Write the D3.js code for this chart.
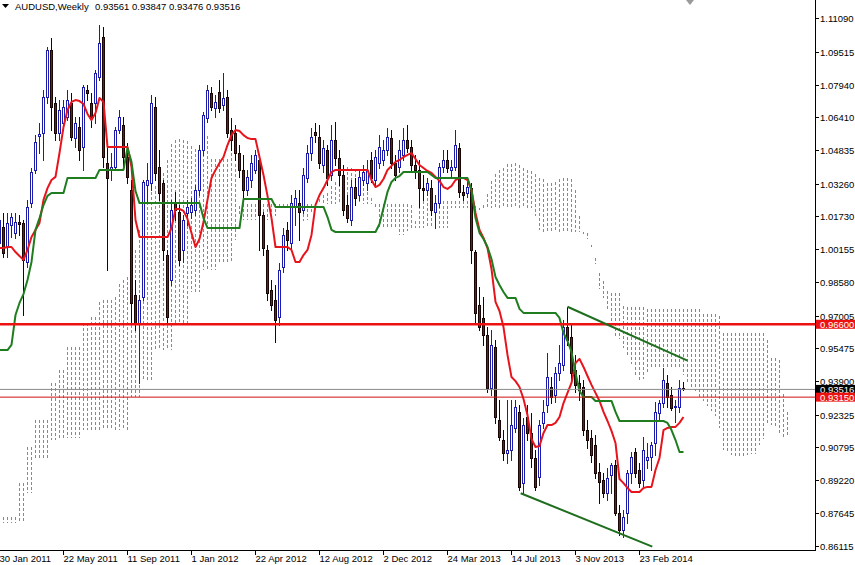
<!DOCTYPE html>
<html><head><meta charset="utf-8">
<script src="https://cdn.jsdelivr.net/npm/d3@7"></script>
<style>
body{margin:0;background:#fff;}
svg{display:block;}
text{font-family:"Liberation Sans",Arial,sans-serif;font-size:9.5px;}
</style>
</head><body>
<svg id="c" width="855" height="565"></svg>
<script>
// ---- weekly candles (bar 0 = week of 30 Jan 2011) ----
const candleOpen = [1.0045,1.0121,1.0026,1.0130,1.0092,1.0145,1.0140,0.9955,1.0234,1.0391,1.0552,1.0566,1.0736,1.0959,1.0708,1.0566,1.0613,1.0642,1.0708,1.0542,1.0594,1.0500,1.0770,1.0708,1.0708,1.0831,1.1021,1.0424,1.0391,1.0405,1.0580,1.0604,1.0452,1.0296,0.9799,0.9666,0.9789,1.0320,1.0329,1.0689,1.0405,1.0329,0.9988,0.9870,1.0239,1.0192,1.0012,1.0187,1.0192,1.0201,1.0296,1.0485,1.0637,1.0755,1.0684,1.0760,1.0698,1.0736,1.0580,1.0566,1.0471,1.0391,1.0296,1.0343,1.0391,1.0438,1.0177,1.0012,0.9822,0.9775,0.9695,0.9931,1.0107,1.0045,1.0216,1.0234,1.0201,1.0353,1.0471,1.0571,1.0547,1.0414,1.0485,1.0367,1.0533,1.0448,1.0367,1.0225,1.0154,1.0310,1.0272,1.0343,1.0329,1.0438,1.0343,1.0424,1.0438,1.0485,1.0542,1.0424,1.0405,1.0462,1.0533,1.0500,1.0414,1.0391,1.0306,1.0296,1.0306,1.0192,1.0234,1.0405,1.0438,1.0391,1.0405,1.0495,1.0287,1.0282,1.0306,1.0003,0.9751,0.9690,0.9610,0.9358,0.9553,0.9207,0.9112,0.9050,0.9065,0.9169,0.9245,0.8909,0.9221,0.9145,0.9027,0.8937,0.9193,0.9278,0.9363,0.9325,0.9429,0.9467,0.9647,0.9600,0.9444,0.9382,0.9363,0.9159,0.9122,0.9088,0.8961,0.8923,0.8861,0.8946,0.8994,0.8766,0.8686,0.8766,0.8956,0.9055,0.8970,0.8923,0.9017,0.9032,0.9098,0.9240,0.9288,0.9382,0.9325,0.9268,0.9268,0.93561];
const candleHigh = [1.0192,1.0187,1.0187,1.0187,1.0187,1.0177,1.0154,1.0249,1.0400,1.0556,1.0613,1.0770,1.0973,1.1016,1.0736,1.0722,1.0722,1.0770,1.0755,1.0642,1.0642,1.0793,1.0793,1.0755,1.0864,1.1077,1.1068,1.0500,1.0471,1.0594,1.0675,1.0642,1.0519,1.0343,0.9870,0.9799,1.0343,1.0424,1.0746,1.0736,1.0485,1.0343,1.0012,1.0249,1.0287,1.0225,1.0177,1.0249,1.0258,1.0320,1.0509,1.0665,1.0793,1.0784,1.0746,1.0817,1.0850,1.0770,1.0637,1.0604,1.0509,1.0462,1.0391,1.0462,1.0485,1.0462,1.0192,1.0036,0.9870,0.9846,0.9951,1.0116,1.0145,1.0272,1.0296,1.0296,1.0400,1.0509,1.0589,1.0613,1.0604,1.0533,1.0509,1.0604,1.0618,1.0485,1.0414,1.0272,1.0343,1.0353,1.0391,1.0414,1.0438,1.0476,1.0485,1.0556,1.0533,1.0589,1.0580,1.0462,1.0533,1.0589,1.0604,1.0533,1.0462,1.0438,1.0367,1.0353,1.0343,1.0272,1.0424,1.0485,1.0485,1.0438,1.0580,1.0519,1.0320,1.0343,1.0329,1.0012,0.9837,0.9789,0.9647,0.9633,0.9586,0.9302,0.9159,0.9302,0.9302,0.9302,0.9278,0.9216,0.9278,0.9240,0.9065,0.9207,0.9302,0.9524,0.9411,0.9458,0.9562,0.9680,0.9742,0.9657,0.9514,0.9420,0.9396,0.9207,0.9159,0.9136,0.9003,0.8956,0.8979,0.9003,0.9017,0.8804,0.8781,0.8970,0.9055,0.9074,0.9003,0.9126,0.9098,0.9103,0.9292,0.9302,0.9453,0.9420,0.9363,0.9302,0.9396,0.93847];
const candleLow = [1.0012,0.9979,0.9979,1.0074,1.0069,1.0083,0.9704,0.9931,1.0216,1.0376,1.0471,1.0438,1.0708,1.0580,1.0533,1.0533,1.0594,1.0627,1.0533,1.0500,1.0438,1.0391,1.0722,1.0594,1.0613,1.0817,1.0405,0.9917,1.0343,1.0391,1.0566,1.0405,1.0329,0.9666,0.9633,0.9382,0.9775,1.0234,1.0296,1.0343,1.0249,0.9965,0.9666,0.9846,1.0154,0.9941,0.9955,1.0130,1.0163,1.0177,1.0272,1.0462,1.0618,1.0675,1.0642,1.0665,1.0675,1.0547,1.0485,1.0438,1.0357,1.0249,1.0272,1.0310,1.0376,1.0012,0.9988,0.9775,0.9728,0.9576,0.9657,0.9908,1.0012,1.0012,1.0130,1.0059,1.0187,1.0334,1.0438,1.0523,1.0400,1.0381,1.0320,1.0343,1.0414,1.0320,1.0177,1.0145,1.0130,1.0225,1.0249,1.0320,1.0296,1.0334,1.0320,1.0400,1.0414,1.0462,1.0400,1.0343,1.0381,1.0438,1.0476,1.0391,1.0353,1.0216,1.0249,1.0272,1.0177,1.0116,1.0216,1.0381,1.0381,1.0353,1.0391,1.0263,1.0249,1.0263,0.9951,0.9666,0.9633,0.9562,0.9339,0.9325,0.9193,0.9112,0.9017,0.9003,0.9017,0.9150,0.8875,0.8861,0.9112,0.8984,0.8875,0.8899,0.9169,0.9245,0.9288,0.9292,0.9396,0.9444,0.9562,0.9396,0.9339,0.9302,0.9136,0.9074,0.9008,0.8932,0.8814,0.8842,0.8828,0.8861,0.8757,0.8662,0.8653,0.8719,0.8909,0.8937,0.8890,0.8890,0.8979,0.8970,0.9041,0.9207,0.9268,0.9268,0.9254,0.9198,0.9245,0.93476];
const candleClose = [1.0154,0.9998,1.0140,1.0168,1.0145,1.0135,0.9965,1.0216,1.0381,1.0523,1.0561,1.0736,1.0959,1.0689,1.0566,1.0675,1.0689,1.0722,1.0547,1.0613,1.0485,1.0784,1.0755,1.0642,1.0850,1.0992,1.0452,1.0353,1.0405,1.0580,1.0642,1.0452,1.0357,0.9761,0.9666,0.9775,1.0334,1.0343,1.0708,1.0376,1.0282,1.0012,0.9695,1.0201,1.0201,0.9965,1.0154,1.0216,1.0225,1.0296,1.0485,1.0651,1.0770,1.0689,1.0713,1.0684,1.0731,1.0566,1.0533,1.0471,1.0391,1.0296,1.0357,1.0424,1.0462,1.0177,1.0021,0.9808,0.9751,0.9680,0.9917,1.0083,1.0059,1.0234,1.0258,1.0192,1.0367,1.0471,1.0547,1.0556,1.0424,1.0495,1.0353,1.0533,1.0448,1.0367,1.0201,1.0163,1.0310,1.0258,1.0357,1.0381,1.0391,1.0353,1.0452,1.0500,1.0485,1.0547,1.0424,1.0367,1.0485,1.0533,1.0495,1.0414,1.0391,1.0306,1.0296,1.0329,1.0201,1.0234,1.0405,1.0438,1.0400,1.0405,1.0509,1.0287,1.0272,1.0310,1.0012,0.9714,0.9647,0.9610,0.9358,0.9562,0.9221,0.9126,0.9050,0.9065,0.9183,0.9268,0.8890,0.9183,0.9145,0.9027,0.8890,0.9183,0.9245,0.9411,0.9316,0.9429,0.9477,0.9647,0.9586,0.9429,0.9372,0.9349,0.9159,0.9112,0.9041,0.8956,0.8913,0.8861,0.8932,0.8994,0.8766,0.8686,0.8748,0.8956,0.9032,0.8956,0.8909,0.9065,0.9032,0.9088,0.9245,0.9288,0.9396,0.9316,0.9264,0.9273,0.9358,0.93516];

// ---- Ichimoku lines (one value per bar) ----
const tenkan = [1.0021,1.0021,1.0026,1.0026,1.0002,0.9983,0.9965,1.0012,1.0073,1.0107,1.0140,1.0249,1.0305,1.0343,1.0358,1.0471,1.0594,1.0675,1.0713,1.0722,1.0717,1.0703,1.0656,1.0627,1.0661,1.0732,1.0713,1.0500,1.0500,1.0500,1.0500,1.0500,1.0500,1.0405,1.0154,1.0073,1.0073,1.0073,1.0073,1.0073,1.0073,1.0073,1.0073,1.0116,1.0206,1.0206,1.0197,1.0159,1.0092,1.0026,1.0064,1.0144,1.0249,1.0353,1.0391,1.0424,1.0452,1.0509,1.0556,1.0580,1.0575,1.0556,1.0542,1.0537,1.0537,1.0452,1.0367,1.0268,1.0163,1.0026,1.0026,1.0026,1.0026,1.0012,0.9955,0.9955,0.9988,1.0012,1.0083,1.0225,1.0272,1.0305,1.0343,1.0381,1.0391,1.0391,1.0391,1.0391,1.0391,1.0391,1.0391,1.0391,1.0391,1.0343,1.0310,1.0320,1.0348,1.0391,1.0410,1.0429,1.0438,1.0452,1.0462,1.0471,1.0443,1.0414,1.0400,1.0386,1.0377,1.0358,1.0339,1.0310,1.0301,1.0315,1.0343,1.0353,1.0353,1.0343,1.0296,1.0187,1.0107,1.0069,1.0021,0.9922,0.9766,0.9723,0.9647,0.9515,0.9410,0.9391,0.9363,0.9306,0.9230,0.9117,0.9079,0.9084,0.9145,0.9183,0.9183,0.9193,0.9221,0.9287,0.9335,0.9382,0.9477,0.9496,0.9458,0.9415,0.9373,0.9335,0.9297,0.9245,0.9202,0.9155,0.9098,0.8927,0.8908,0.8885,0.8866,0.8866,0.8866,0.8885,0.8890,0.8890,0.8970,0.9027,0.9159,0.9169,0.9174,0.9174,0.9193,0.9221];
const kijun = [0.9538,0.9538,0.9538,0.9562,0.9704,0.9761,0.9803,0.9870,0.9955,1.0107,1.0163,1.0225,1.0268,1.0282,1.0282,1.0282,1.0282,1.0353,1.0353,1.0353,1.0353,1.0353,1.0353,1.0353,1.0353,1.0391,1.0391,1.0391,1.0391,1.0391,1.0391,1.0391,1.0495,1.0429,1.0291,1.0234,1.0234,1.0234,1.0234,1.0234,1.0234,1.0234,1.0234,1.0234,1.0234,1.0234,1.0234,1.0234,1.0234,1.0234,1.0234,1.0163,1.0116,1.0116,1.0116,1.0116,1.0116,1.0116,1.0116,1.0116,1.0116,1.0253,1.0253,1.0253,1.0253,1.0253,1.0253,1.0253,1.0253,1.0216,1.0216,1.0216,1.0216,1.0216,1.0216,1.0216,1.0216,1.0216,1.0216,1.0216,1.0216,1.0216,1.0168,1.0107,1.0097,1.0097,1.0097,1.0097,1.0097,1.0097,1.0097,1.0097,1.0097,1.0097,1.0097,1.0135,1.0211,1.0287,1.0334,1.0353,1.0362,1.0381,1.0381,1.0381,1.0381,1.0381,1.0381,1.0381,1.0367,1.0353,1.0353,1.0353,1.0353,1.0353,1.0353,1.0353,1.0353,1.0353,1.0296,1.0163,1.0093,1.0064,1.0026,0.9969,0.9884,0.9846,0.9813,0.9785,0.9785,0.9785,0.9733,0.9714,0.9714,0.9714,0.9714,0.9714,0.9714,0.9714,0.9714,0.9714,0.9690,0.9619,0.9581,0.9529,0.9429,0.9344,0.9316,0.9316,0.9316,0.9297,0.9297,0.9297,0.9297,0.9297,0.9245,0.9202,0.9202,0.9202,0.9202,0.9202,0.9202,0.9202,0.9202,0.9202,0.9202,0.9202,0.9202,0.9193,0.9159,0.9112,0.9055,0.9055];
// Senkou spans as plotted (already shifted 26 bars ahead), bars 0..197
const spanA = [0.8748,0.8748,0.8748,0.8748,0.8748,0.8909,0.8909,0.9079,0.9079,0.9207,0.9207,0.9207,0.9207,0.9382,0.9382,0.9444,0.9444,0.9553,0.9553,0.9553,0.9553,0.9666,0.9666,0.9695,0.9695,0.9766,0.9775,0.9775,0.9777,0.9787,0.9853,0.9872,0.9884,0.9941,1.0014,1.0107,1.0151,1.0237,1.0287,1.0313,1.0320,1.0377,1.0438,1.0514,1.0533,1.0537,1.0535,1.0528,1.0504,1.0490,1.0507,1.0561,1.0552,1.0445,1.0445,1.0445,1.0445,1.0445,1.0497,1.0417,1.0222,1.0154,1.0154,1.0154,1.0154,1.0154,1.0154,1.0154,1.0154,1.0175,1.0220,1.0220,1.0216,1.0197,1.0163,1.0130,1.0149,1.0154,1.0182,1.0234,1.0253,1.0270,1.0284,1.0313,1.0336,1.0348,1.0346,1.0405,1.0398,1.0395,1.0395,1.0353,1.0310,1.0260,1.0208,1.0121,1.0121,1.0121,1.0121,1.0114,1.0085,1.0085,1.0102,1.0114,1.0149,1.0220,1.0244,1.0260,1.0256,1.0244,1.0244,1.0244,1.0244,1.0244,1.0244,1.0244,1.0244,1.0244,1.0244,1.0220,1.0204,1.0227,1.0279,1.0339,1.0372,1.0391,1.0400,1.0417,1.0421,1.0426,1.0412,1.0398,1.0391,1.0384,1.0372,1.0355,1.0346,1.0331,1.0327,1.0334,1.0348,1.0353,1.0353,1.0348,1.0296,1.0175,1.0099,1.0066,1.0024,0.9946,0.9825,0.9785,0.9730,0.9650,0.9598,0.9588,0.9548,0.9510,0.9472,0.9415,0.9396,0.9399,0.9430,0.9448,0.9448,0.9453,0.9455,0.9453,0.9458,0.9455,0.9453,0.9420,0.9387,0.9365,0.9344,0.9316,0.9297,0.9271,0.9250,0.9226,0.9171,0.9065,0.9055,0.9043,0.9034,0.9034,0.9034,0.9043,0.9046,0.9046,0.9086,0.9115,0.9181,0.9181,0.9167,0.9143,0.9124,0.9138];
const spanB = [0.8719,0.8719,0.8719,0.8719,0.8719,0.8719,0.8719,0.8861,0.8861,0.9017,0.9017,0.9017,0.9017,0.9112,0.9112,0.9122,0.9122,0.9122,0.9122,0.9122,0.9122,0.9159,0.9159,0.9159,0.9159,0.9159,0.9159,0.9159,0.9159,0.9159,0.9159,0.9159,0.9159,0.9316,0.9316,0.9316,0.9396,0.9396,0.9396,0.9538,0.9538,0.9538,0.9538,0.9538,0.9666,0.9666,0.9666,0.9666,0.9813,0.9813,0.9813,0.9917,0.9917,0.9917,0.9917,0.9955,0.9955,0.9955,0.9955,1.0059,1.0177,1.0230,1.0230,1.0230,1.0230,1.0230,1.0230,1.0230,1.0230,1.0230,1.0230,1.0230,1.0230,1.0230,1.0230,1.0230,1.0230,1.0230,1.0230,1.0230,1.0230,1.0230,1.0230,1.0230,1.0230,1.0230,1.0230,1.0230,1.0230,1.0230,1.0230,1.0230,1.0230,1.0230,1.0230,1.0230,1.0230,1.0230,1.0230,1.0230,1.0230,1.0230,1.0230,1.0225,1.0116,1.0116,1.0116,1.0116,1.0116,1.0116,1.0116,1.0116,1.0116,1.0213,1.0213,1.0213,1.0213,1.0213,1.0213,1.0213,1.0213,1.0213,1.0213,1.0213,1.0213,1.0213,1.0213,1.0213,1.0213,1.0213,1.0213,1.0213,1.0213,1.0213,1.0173,1.0107,1.0097,1.0097,1.0097,1.0097,1.0097,1.0097,1.0097,1.0097,1.0097,1.0097,1.0097,1.0090,1.0036,0.9972,0.9905,0.9865,0.9818,0.9810,0.9810,0.9810,0.9747,0.9740,0.9740,0.9740,0.9740,0.9740,0.9732,0.9732,0.9732,0.9732,0.9732,0.9732,0.9732,0.9732,0.9732,0.9732,0.9732,0.9732,0.9732,0.9732,0.9709,0.9709,0.9709,0.9709,0.9697,0.9621,0.9617,0.9617,0.9617,0.9617,0.9617,0.9617,0.9617,0.9617,0.9617,0.9617,0.9586,0.9498,0.9498,0.9491,0.9332,0.9245];

// ---- axes ----
const dateLabels = ["30 Jan 2011","22 May 2011","11 Sep 2011","1 Jan 2012","22 Apr 2012","12 Aug 2012","2 Dec 2012","24 Mar 2013","14 Jul 2013","3 Nov 2013","23 Feb 2014"];
const dateLabelBars = [0,16,32,48,64,80,96,112,128,144,160];
const priceTicks = [1.11090,1.09515,1.07940,1.06410,1.04835,1.03260,1.01730,1.00155,0.98580,0.97005,0.95475,0.93900,0.92325,0.90795,0.89220,0.87645,0.86115];

// ---- drawings ----
const levelLines = [0.96600, 0.93150];
const bidPrice = 0.93516;
const trendUpper = [[142, 0.9743],[172, 0.9488]];
const trendLower = [[130.3, 0.8860],[163.2, 0.8607]];
const titleSymbol = "AUDUSD,Weekly";
const titleValues = "0.93561 0.93847 0.93476 0.93516";

const svg = d3.select("#c");
const plotW = 815, plotH = 550;
const x = d3.scaleLinear().domain([0, 204]).range([-1, 815]);
const y = d3.scaleLinear().domain([0.85911, 1.11957]).range([550, 0]);

svg.append("defs").append("clipPath").attr("id","clip")
  .append("rect").attr("x",0).attr("y",0).attr("width",plotW).attr("height",plotH);
const plot = svg.append("g").attr("clip-path","url(#clip)");

const TEAL = "#4aa892", ORANGE = "#ec6234";
// cloud: one dotted column per bar between the two spans (3px dot, 2px gap)
const cloud = plot.append("g").attr("shape-rendering","crispEdges");
spanA.forEach((a, i) => {
  const b = spanB[i];
  const cx = Math.round(x(i));
  const top = Math.round(y(Math.max(a, b)));
  const bot = Math.max(Math.round(y(Math.min(a, b))), top + 2);
  const col = a >= b ? TEAL : ORANGE;
  for (let yy = top; yy < bot; yy += 5) {
    cloud.append("rect").attr("x", cx).attr("y", yy).attr("width", 1)
      .attr("height", Math.min(3, bot - yy)).attr("fill", col);
  }
});

// candles
const BULL = "#1c1caa", BEARF = "#6e1e1e", BEARS = "#1a0505";
const cg = plot.append("g").attr("shape-rendering","crispEdges");
candleOpen.forEach((o, i) => {
  const c = candleClose[i], h = candleHigh[i], l = candleLow[i];
  const cx = Math.round(x(i));
  const bull = c >= o;
  cg.append("line").attr("x1",cx+0.5).attr("x2",cx+0.5)
    .attr("y1",Math.round(y(h))).attr("y2",Math.round(y(l))+1)
    .attr("stroke", bull ? BULL : BEARS).attr("stroke-width",1);
  const t = Math.round(y(Math.max(o,c))), btm = Math.round(y(Math.min(o,c)));
  if (btm - t < 1) {
    cg.append("line").attr("x1",cx-1).attr("x2",cx+2).attr("y1",t+0.5).attr("y2",t+0.5)
      .attr("stroke", bull ? BULL : BEARS).attr("stroke-width",1);
  } else {
    cg.append("rect").attr("x",cx-0.5).attr("y",t+0.5).attr("width",2).attr("height",btm-t)
      .attr("fill", bull ? "#ffffff" : BEARF).attr("stroke", bull ? BULL : BEARS).attr("stroke-width",1);
  }
});

// tenkan & kijun
const line = d3.line().x((d,i)=>x(i)+0.5).y(d=>y(d));
plot.append("path").datum(tenkan).attr("d",line).attr("fill","none")
  .attr("stroke","#e8141c").attr("stroke-width",2).attr("stroke-linejoin","round");
plot.append("path").datum(kijun).attr("d",line).attr("fill","none")
  .attr("stroke","#1f7d1f").attr("stroke-width",2).attr("stroke-linejoin","round");

// horizontal levels
plot.append("line").attr("x1",0).attr("x2",plotW).attr("y1",y(bidPrice)).attr("y2",y(bidPrice))
  .attr("stroke","#8a8a8a").attr("stroke-width",1);
plot.append("line").attr("x1",0).attr("x2",plotW).attr("y1",y(levelLines[0])).attr("y2",y(levelLines[0]))
  .attr("stroke","#ee1111").attr("stroke-width",2.5);
plot.append("line").attr("x1",0).attr("x2",plotW).attr("y1",y(levelLines[1])).attr("y2",y(levelLines[1]))
  .attr("stroke","#cc1111").attr("stroke-width",1);

// trendlines
[trendUpper, trendLower].forEach(tl => {
  plot.append("line").attr("x1",x(tl[0][0])+0.5).attr("y1",y(tl[0][1]))
    .attr("x2",x(tl[1][0])+0.5).attr("y2",y(tl[1][1]))
    .attr("stroke","#1e6e1e").attr("stroke-width",2);
});

// axes frame
svg.append("line").attr("x1",plotW+0.5).attr("x2",plotW+0.5).attr("y1",0).attr("y2",plotH+1)
  .attr("stroke","#000").attr("stroke-width",1);
svg.append("line").attr("x1",0).attr("x2",plotW+1).attr("y1",plotH+0.5).attr("y2",plotH+0.5)
  .attr("stroke","#000").attr("stroke-width",1);

// price axis
const pa = svg.append("g");
priceTicks.forEach(p => {
  const yy = Math.round(y(p)) + 0.5;
  pa.append("line").attr("x1",plotW).attr("x2",plotW+4).attr("y1",yy).attr("y2",yy).attr("stroke","#000");
  pa.append("text").attr("x",plotW+5).attr("y",yy+3.5).attr("fill","#000").text(p.toFixed(5));
});
function priceBox(p, bg) {
  const yy = y(p);
  pa.append("rect").attr("x",plotW+1).attr("y",yy-4.5).attr("width",40).attr("height",9).attr("fill",bg);
  pa.append("text").attr("x",plotW+5).attr("y",yy+3.5).attr("fill","#fff").text(p.toFixed(5));
}
priceBox(bidPrice, "#000");
priceBox(levelLines[0], "#ee1111");
priceBox(levelLines[1], "#ee1111");

// time axis
const ta = svg.append("g");
dateLabels.forEach((lab, i) => {
  const xx = Math.round(x(dateLabelBars[i])) + 0.5;
  ta.append("line").attr("x1",xx).attr("x2",xx).attr("y1",plotH).attr("y2",plotH+5).attr("stroke","#000");
  ta.append("text").attr("x",xx).attr("y",plotH+12).attr("fill","#000").text(lab);
});

// title
svg.append("path").attr("d","M2,4 L9,4 L5.5,8 Z").attr("fill","#000");
svg.append("text").attr("x",15).attr("y",10).attr("fill","#000").text(titleSymbol);
svg.append("text").attr("x",95).attr("y",10).attr("fill","#000").text(titleValues);
// chart shift marker
svg.append("path").attr("d","M686,0 L694,0 L690,5 Z").attr("fill","#9a9a9a");
</script>
</body></html>
